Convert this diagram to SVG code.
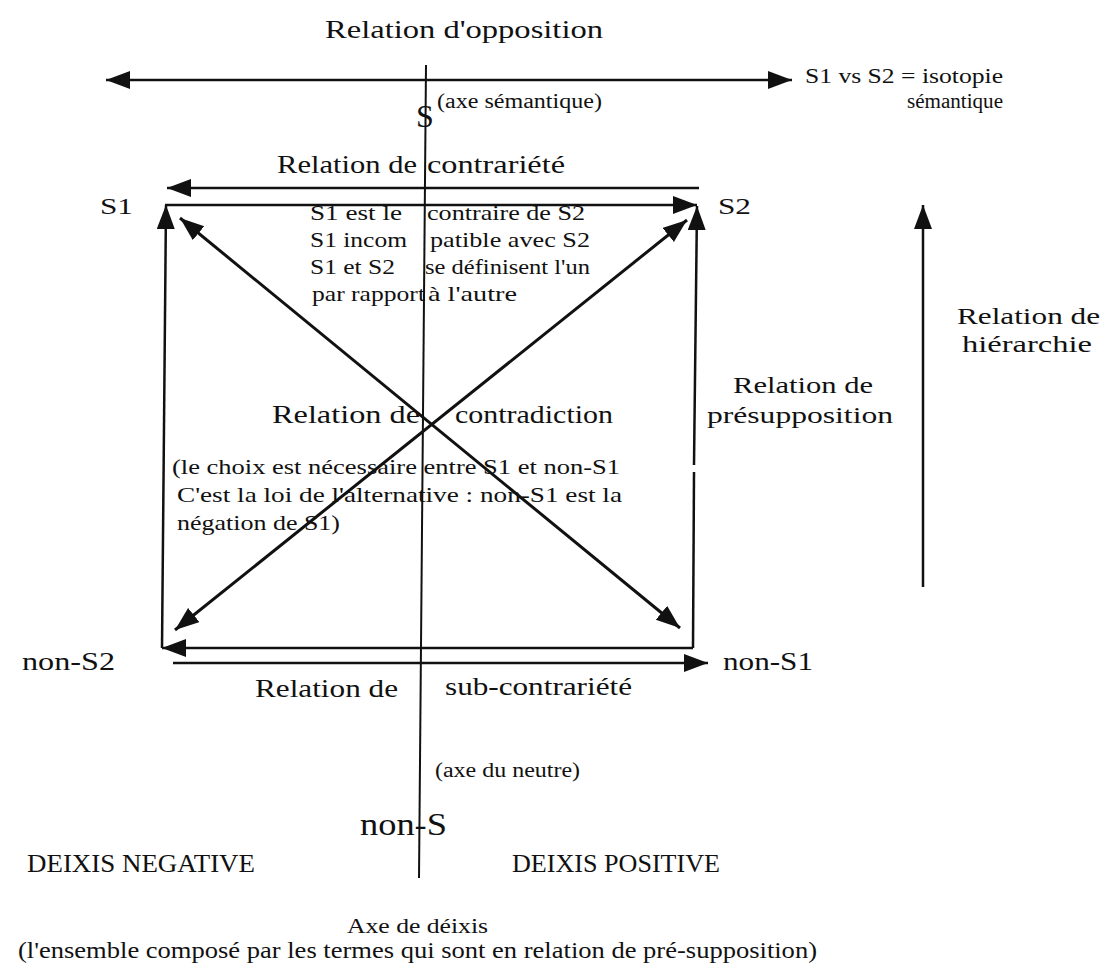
<svg xmlns="http://www.w3.org/2000/svg" width="1107" height="972" viewBox="0 0 1107 972">
  <defs>
    <marker id="ah" markerUnits="userSpaceOnUse" markerWidth="26" markerHeight="20" refX="24" refY="9" orient="auto-start-reverse">
      <path d="M0,0 L24,9 L0,18 Z" fill="#111"/>
    </marker>
    <style>
      text { font-family: "Liberation Serif", "Times New Roman", serif; fill: #111; }
      .conn line { stroke: #111; stroke-width: 2.5; fill: none; }
      .arr { marker-end: url(#ah); }
      .both { marker-start: url(#ah); marker-end: url(#ah); }
      .f20 { font-size: 20px; }
      .f22 { font-size: 22px; }
      .f24 { font-size: 24px; }
      .f26 { font-size: 26px; }
      .f32 { font-size: 32px; }
    </style>
  </defs>
  <rect width="1107" height="972" fill="#ffffff"/>

  <g id="connectors" class="conn">
    <line class="both" x1="106" y1="80" x2="792" y2="80"/>
    <line x1="426" y1="65" x2="419" y2="878" style="stroke-width:2"/>
    <line class="arr" x1="699" y1="188" x2="167" y2="188"/>
    <line class="arr" x1="165" y1="205" x2="697" y2="205"/>
    <line class="arr" x1="162" y1="648" x2="166" y2="205"/>
    <line x1="693" y1="648" x2="694" y2="472"/>
    <line class="arr" x1="694" y1="465" x2="697" y2="206"/>
    <line class="arr" x1="693" y1="648" x2="162" y2="648"/>
    <line class="arr" x1="173" y1="663" x2="708" y2="663"/>
    <line class="both" x1="180" y1="218" x2="680" y2="628" style="stroke-width:3"/>
    <line class="both" x1="687" y1="220" x2="175" y2="630" style="stroke-width:3"/>
    <line class="arr" x1="923" y1="587" x2="923" y2="205"/>
  </g>

  <g id="label-opposition"><text class="f26" x="325" y="38" textLength="278" lengthAdjust="spacingAndGlyphs">Relation d'opposition</text></g>
  <g id="label-isotopie">
    <text class="f22" x="805" y="83" textLength="198" lengthAdjust="spacingAndGlyphs">S1 vs S2 = isotopie</text>
    <text class="f20" x="907" y="108" textLength="96" lengthAdjust="spacingAndGlyphs">sémantique</text>
  </g>
  <g id="label-axe-semantique"><text class="f20" x="437" y="108" textLength="165" lengthAdjust="spacingAndGlyphs">(axe sémantique)</text></g>
  <g id="node-S"><text class="f32" x="416" y="127">S</text></g>

  <g id="label-contrariete">
    <text class="f26" x="277" y="173" textLength="140" lengthAdjust="spacingAndGlyphs">Relation de</text>
    <text class="f26" x="427" y="173" textLength="138" lengthAdjust="spacingAndGlyphs">contrariété</text>
  </g>
  <g id="node-S1"><text class="f24" x="100" y="214" textLength="33" lengthAdjust="spacingAndGlyphs">S1</text></g>
  <g id="node-S2"><text class="f24" x="718" y="214" textLength="33" lengthAdjust="spacingAndGlyphs">S2</text></g>

  <g id="text-contrariete" class="f22">
    <text x="310" y="220" textLength="92" lengthAdjust="spacingAndGlyphs">S1 est le</text>
    <text x="427" y="220" textLength="158" lengthAdjust="spacingAndGlyphs">contraire de S2</text>
    <text x="310" y="247" textLength="97" lengthAdjust="spacingAndGlyphs">S1 incom</text>
    <text x="430" y="247" textLength="160" lengthAdjust="spacingAndGlyphs">patible avec S2</text>
    <text x="310" y="274" textLength="85" lengthAdjust="spacingAndGlyphs">S1 et S2</text>
    <text x="425" y="274" textLength="165" lengthAdjust="spacingAndGlyphs">se définisent l'un</text>
    <text x="312" y="301" textLength="113" lengthAdjust="spacingAndGlyphs">par rapport</text>
    <text x="428" y="301" textLength="89" lengthAdjust="spacingAndGlyphs">à l'autre</text>
  </g>

  <g id="label-contradiction">
    <text class="f26" x="272" y="423" textLength="148" lengthAdjust="spacingAndGlyphs">Relation de</text>
    <text class="f26" x="455" y="423" textLength="158" lengthAdjust="spacingAndGlyphs">contradiction</text>
  </g>
  <g id="text-contradiction" class="f22">
    <text x="172" y="474" textLength="448" lengthAdjust="spacingAndGlyphs">(le choix est nécessaire entre S1 et non-S1</text>
    <text x="177" y="502" textLength="445" lengthAdjust="spacingAndGlyphs">C'est la loi de l'alternative : non-S1 est la</text>
    <text x="177" y="530" textLength="163" lengthAdjust="spacingAndGlyphs">négation de S1)</text>
  </g>

  <g id="label-presupposition" class="f24">
    <text x="733" y="393" textLength="140" lengthAdjust="spacingAndGlyphs">Relation de</text>
    <text x="707" y="423" textLength="186" lengthAdjust="spacingAndGlyphs">présupposition</text>
  </g>
  <g id="label-hierarchie" class="f24">
    <text x="957" y="324" textLength="143" lengthAdjust="spacingAndGlyphs">Relation de</text>
    <text x="962" y="352" textLength="130" lengthAdjust="spacingAndGlyphs">hiérarchie</text>
  </g>

  <g id="node-nonS2"><text class="f26" x="22" y="670" textLength="93" lengthAdjust="spacingAndGlyphs">non-S2</text></g>
  <g id="node-nonS1"><text class="f26" x="723" y="670" textLength="90" lengthAdjust="spacingAndGlyphs">non-S1</text></g>

  <g id="label-subcontrariete">
    <text class="f26" x="255" y="697" textLength="143" lengthAdjust="spacingAndGlyphs">Relation de</text>
    <text class="f26" x="445" y="695" textLength="187" lengthAdjust="spacingAndGlyphs">sub-contrariété</text>
  </g>
  <g id="label-axe-neutre"><text class="f20" x="435" y="777" textLength="145" lengthAdjust="spacingAndGlyphs">(axe du neutre)</text></g>
  <g id="node-nonS"><text class="f32" x="360" y="835" textLength="87" lengthAdjust="spacingAndGlyphs">non-S</text></g>

  <g id="label-deixis-negative"><text class="f26" x="27" y="872" textLength="228" lengthAdjust="spacingAndGlyphs">DEIXIS NEGATIVE</text></g>
  <g id="label-deixis-positive"><text class="f26" x="512" y="872" textLength="208" lengthAdjust="spacingAndGlyphs">DEIXIS POSITIVE</text></g>

  <g id="label-axe-deixis">
    <text class="f22" x="347" y="933" textLength="141" lengthAdjust="spacingAndGlyphs">Axe de déixis</text>
    <text class="f24" x="18" y="958" textLength="799" lengthAdjust="spacingAndGlyphs">(l'ensemble composé par les termes qui sont en relation de pré-supposition)</text>
  </g>
</svg>
